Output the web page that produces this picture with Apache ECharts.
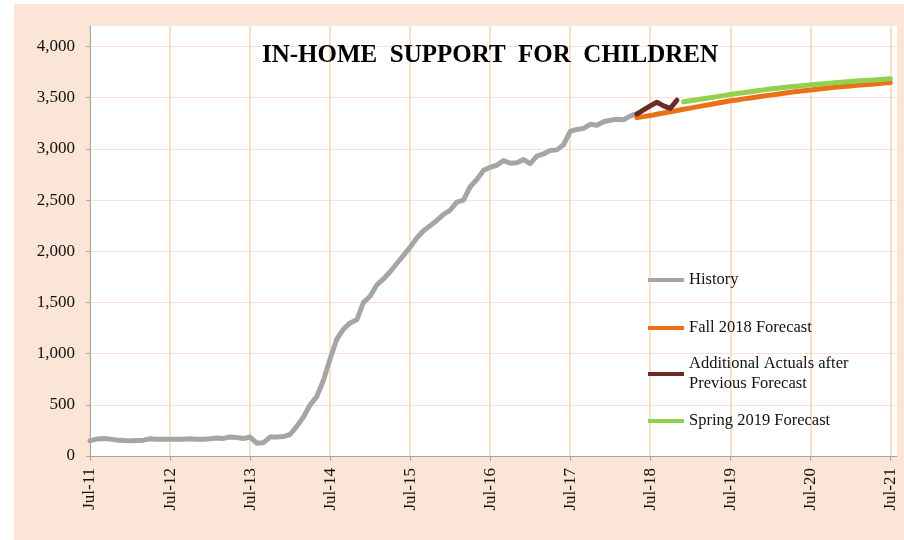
<!DOCTYPE html>
<html><head><meta charset="utf-8">
<script src="https://cdn.jsdelivr.net/npm/echarts/dist/echarts.min.js"></script>
<style>html,body{margin:0;padding:0;background:#fff}#c{width:904px;height:540px}</style>
</head><body><div id="c"></div>
<script>
const monthNames = ['Jan','Feb','Mar','Apr','May','Jun','Jul','Aug','Sep','Oct','Nov','Dec'];
const startYear = 2011, startMonth = 6, monthCount = 122;
const categories = [];
for (let i = 0; i < monthCount; i++) {
  const m = (startMonth + i) % 12;
  const y = startYear + Math.floor((startMonth + i) / 12);
  categories.push(monthNames[m] + '-' + String(y % 100).padStart(2, '0'));
}

const yTicks = [0, 500, 1000, 1500, 2000, 2500, 3000, 3500, 4000];

const history = [
  150,165,170,165,157,152,150,152,155,168,163,163,
  163,163,163,168,163,163,168,175,172,185,180,170,
  185,125,130,185,185,190,210,290,380,500,580,740,
  950,1140,1240,1300,1330,1500,1560,1670,1730,1800,1880,1960,
  2040,2130,2200,2250,2300,2360,2400,2480,2500,2630,2700,2790,
  2820,2840,2885,2860,2865,2895,2855,2930,2950,2985,2990,3040,
  3170,3190,3200,3240,3230,3265,3280,3290,3285,3320,3345
];
const fall2018Forecast = [
  3305,3315,3325,3338,3350,3362,3375,3387,3398,3410,3422,3433,3445,3458,3470,
  3478,3488,3497,3506,3516,3525,3534,3543,3552,3560,3568,3575,3582,3589,3596,
  3603,3609,3615,3620,3626,3632,3637,3643,3648
];
const additionalActuals = [3340,3380,3420,3455,3420,3395,3475];
const spring2019Forecast = [
  3460,3470,3480,3490,3500,3510,3520,3530,3540,3549,3558,3567,3576,3585,3592,3599,
  3606,3612,3619,3625,3631,3637,3642,3647,3652,3657,3662,3667,3671,3676,3680,3685
];
const historyStart = 0, fallStart = 82, actualsStart = 82, springStart = 89;

function pad(start, vals) { return Array(start).fill('-').concat(vals); }
const yearTick = (idx) => idx % 12 === 0;
const font = 'Liberation Serif';

const chart = echarts.init(document.getElementById('c'), null, {renderer: 'canvas'});

function legendAt(name, top, extraText) {
  return {
    data: [name], left: 648, top: top, orient: 'vertical', padding: 0,
    itemWidth: 36, itemHeight: 4, icon: 'rect', selectedMode: false,
    textStyle: Object.assign({fontFamily: font, fontSize: 16.5, color: '#111', lineHeight: 20}, extraText || {})
  };
}

const lineSeries = (name, start, vals, color, z) => ({
  name, type: 'line', data: pad(start, vals), color: color, z: z,
  symbol: 'none', showSymbol: false, connectNulls: false,
  lineStyle: {width: 5, color: color, cap: 'round', join: 'round'}
});

chart.setOption({
  animation: false,
  backgroundColor: 'transparent',
  graphic: [{type: 'rect', z: -100, silent: true, shape: {x: 14, y: 4, width: 890, height: 536}, style: {fill: '#FBE5D6'}}],
  title: {
    text: 'IN-HOME  SUPPORT  FOR  CHILDREN', left: 262, top: 43, padding: 0,
    textStyle: {fontFamily: font, fontWeight: 'bold', fontSize: 25, color: '#000'}
  },
  legend: [
    legendAt('History', 270),
    legendAt('Fall 2018 Forecast', 318),
    legendAt('Additional Actuals after\nPrevious Forecast', 344, {padding: [20, 0, 0, 0]}),
    legendAt('Spring 2019 Forecast', 411)
  ],
  grid: {left: 90, right: 7, top: 26, bottom: 84, show: true, backgroundColor: '#fff', borderWidth: 0},
  xAxis: {
    type: 'category', data: categories, boundaryGap: false,
    axisLine: {lineStyle: {color: '#A6A6A6', width: 1}},
    axisTick: {interval: yearTick, length: 5, lineStyle: {color: '#A6A6A6'}},
    axisLabel: {interval: yearTick, rotate: 90, margin: 12, fontFamily: font, fontSize: 17, color: '#111'},
    splitLine: {show: true, interval: yearTick, lineStyle: {color: '#FBD5B5', width: 1.5}}
  },
  yAxis: {
    type: 'value', min: 0, max: 4200, interval: 500,
    axisLine: {show: true, lineStyle: {color: '#A6A6A6'}},
    axisTick: {show: true, length: 4, customValues: yTicks, lineStyle: {color: '#A6A6A6'}},
    axisLabel: {
      margin: 15, fontFamily: font, fontSize: 17, color: '#111',
      formatter: (v) => yTicks.indexOf(v) >= 0 ? v.toLocaleString('en-US') : ''
    },
    splitLine: {lineStyle: {color: '#FCE1CE', width: 1}}
  },
  series: [
    lineSeries('History', historyStart, history, '#A5A5A5', 2),
    lineSeries('Fall 2018 Forecast', fallStart, fall2018Forecast, '#EB7118', 3),
    lineSeries('Additional Actuals after\nPrevious Forecast', actualsStart, additionalActuals, '#6E2A25', 4),
    lineSeries('Spring 2019 Forecast', springStart, spring2019Forecast, '#92D050', 3)
  ]
});
</script></body></html>
